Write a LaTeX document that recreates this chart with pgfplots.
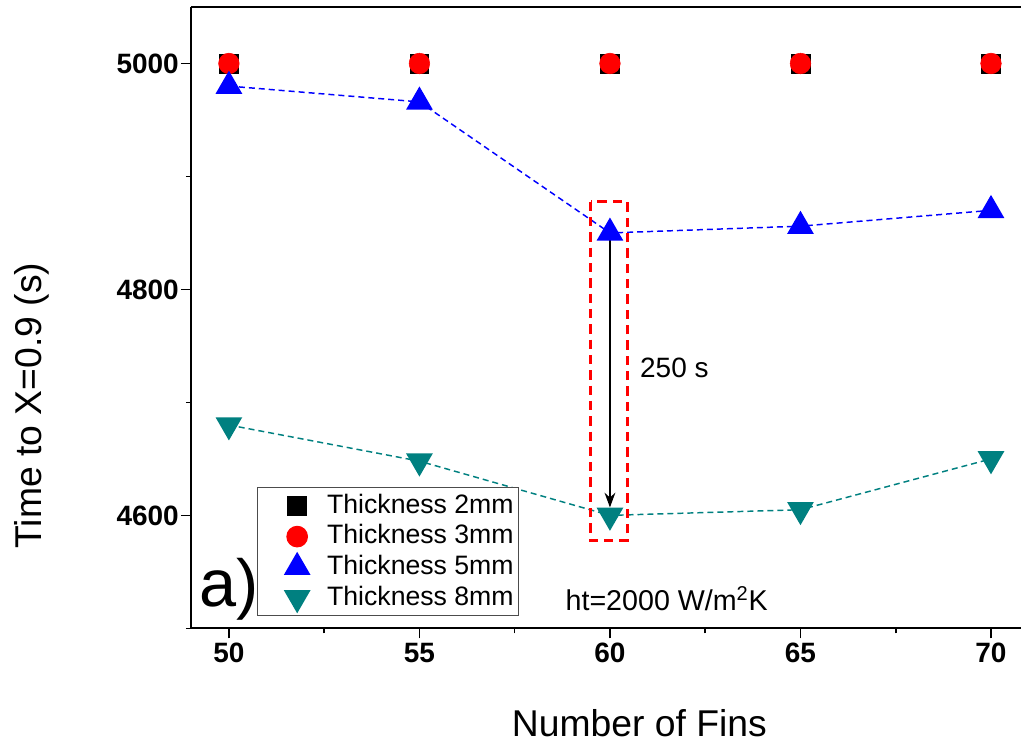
\documentclass[border=0pt]{standalone}
\usepackage{pgfplots}
\pgfplotsset{compat=1.18}
\usepackage{fontspec}
\setmainfont{Liberation Sans}
\usetikzlibrary{arrows.meta}
\definecolor{myteal}{RGB}{0,128,128}
\begin{document}
\begin{tikzpicture}
\begin{axis}[
  name=ax, at={(0pt,0pt)}, anchor=south west,
  scale only axis,
  width=623.25pt, height=466.5pt,
  xmin=49, xmax=70.786, ymin=4500, ymax=5050,
  axis x line*=box, axis y line*=left,
  xtick={50,55,60,65,70}, minor xtick={52.5,57.5,62.5,67.5},
  ytick={4600,4800,5000}, minor ytick={4500,4700,4900},
  xtick pos=left, ytick pos=left,
  tick align=outside,
  major tick length=7.5pt, minor tick length=3.75pt,
  axis line style={line width=1.6pt, -},
  every tick/.style={black, line width=1.2pt},
  /pgf/number format/assume math mode=true,
  /pgf/number format/1000 sep={},
  ticklabel style={font=\bfseries\fontsize{21}{21}\selectfont},
  yticklabel style={xshift=2pt},
  xlabel={Number of Fins},
  xlabel style={at={(axis description cs:0.5403,-0.1736)}, anchor=base, font=\fontsize{28}{28}\selectfont},
  ylabel={Time to X=0.9 (s)},
  ylabel style={at={(axis description cs:-0.1793,0.3585)}, anchor=base, font=\fontsize{28}{28}\selectfont},
  legend style={at={(axis description cs:0.0794,0.0193)}, anchor=south west,
    font=\fontsize{20}{20}\selectfont, draw=black!70, line width=0.75pt,
    inner xsep=1.5pt, inner ysep=2pt, cells={anchor=west},
    nodes={inner ysep=2.5pt, text height=14.5pt, text depth=3.5pt}},
  legend image code/.code={\path[draw=none, fill=none] (0pt,-5pt) rectangle (49pt,5pt);
     \draw[#1, only marks] plot coordinates {(28.5pt,0pt)};},
]
\addplot[only marks, mark=square*, mark size=7pt, black] coordinates {(50,5000)(55,5000)(60,5000)(65,5000)(70,5000)};
\addlegendentry{Thickness 2mm}
\addplot[only marks, mark=*, mark size=7.75pt, red] coordinates {(50,5000)(55,5000)(60,5000)(65,5000)(70,5000)};
\addlegendentry{Thickness 3mm}
\addplot[blue, line width=1.1pt, dash pattern=on 4.5pt off 3pt, mark=triangle*, mark size=10.5pt, mark options={solid}] coordinates {(50,4980)(55,4966)(60,4850)(65,4856)(70,4870)};
\addlegendentry{Thickness 5mm}
\addplot[myteal, line width=1.1pt, dash pattern=on 4.5pt off 3pt, mark=triangle*, mark size=10.5pt, mark options={solid, rotate=180}] coordinates {(50,4680)(55,4648)(60,4600)(65,4605)(70,4650)};
\addlegendentry{Thickness 8mm}
\draw[red, line width=2.25pt, dash pattern=on 7pt off 4.5pt] (axis cs:59.49,4877.6) rectangle (axis cs:60.46,4577.7);
\draw[line width=2pt, -{Stealth[length=11pt, width=8pt]}] (axis cs:60,4850) -- (axis cs:60,4607);
\node[anchor=west, font=\fontsize{21}{21}\selectfont] at (axis cs:60.67,4731) {250 s};
\node[anchor=base west, inner sep=0pt, font=\fontsize{50}{50}\selectfont] at (axis cs:49.21,4519.5) {a)};
\node[anchor=base west, inner sep=0pt, font=\fontsize{21.5}{21.5}\selectfont] at (axis cs:58.83,4516) {ht=2000 W/m\textsuperscript{2}K};
\end{axis}
\path (-143.25pt,-88.5pt) rectangle (623.25pt,471.75pt);
\end{tikzpicture}
\end{document}
